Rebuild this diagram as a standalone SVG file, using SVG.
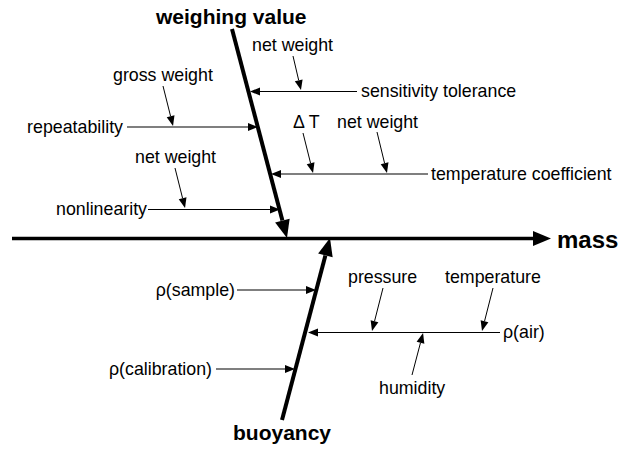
<svg xmlns="http://www.w3.org/2000/svg" width="632" height="451" viewBox="0 0 632 451">
<style>
.t{font-family:"Liberation Sans",Arial,sans-serif;font-size:17.8px;fill:#000}
.b{font-family:"Liberation Sans",Arial,sans-serif;font-weight:bold;fill:#000}
.e{text-anchor:end}
.thin{stroke:#000;stroke-width:1;fill:none;marker-end:url(#sa)}
.gray{stroke:#555;stroke-width:1.4;fill:none;marker-end:url(#sa)}
.thick{stroke:#000;stroke-width:4;fill:none;marker-end:url(#ba)}
</style>
<defs>
<marker id="sa" markerUnits="userSpaceOnUse" markerWidth="12" markerHeight="10" refX="0" refY="4" orient="auto" overflow="visible">
<path d="M0,0 L10,4 L0,8 z" fill="#000"/>
</marker>
<marker id="ba" markerUnits="userSpaceOnUse" markerWidth="20" markerHeight="16" refX="0" refY="7.5" orient="auto" overflow="visible">
<path d="M0,0 L18,7.5 L0,15 z" fill="#000"/>
</marker>
</defs>
<rect width="632" height="451" fill="#fff"/>
<g id="connectors">
<line class="thick" x1="12" y1="238.5" x2="533" y2="238.5" style="stroke-width:3.5"/>
<line class="thick" x1="232" y1="29" x2="282.4" y2="220.6"/>
<line class="thick" x1="282" y1="420" x2="325.4" y2="255.4"/>
<line class="thin" x1="357" y1="91.5" x2="260" y2="91.5"/>
<line class="gray" x1="127" y1="127" x2="248" y2="127"/>
<line class="gray" x1="428" y1="174" x2="281" y2="174"/>
<line class="thin" x1="148" y1="209.5" x2="270" y2="209.5"/>
<line class="gray" x1="237" y1="290" x2="306" y2="290"/>
<line class="thin" x1="500" y1="332.5" x2="318" y2="332.5"/>
<line class="gray" x1="216" y1="369" x2="285" y2="369"/>
<line class="thin" x1="293" y1="56" x2="298.7" y2="80.3"/>
<line class="thin" x1="163" y1="86" x2="170.6" y2="116.3"/>
<line class="thin" x1="175" y1="168" x2="182.6" y2="198.3"/>
<line class="thin" x1="303" y1="133" x2="310.6" y2="163.3"/>
<line class="thin" x1="377" y1="132" x2="384.6" y2="163.3"/>
<line class="thin" x1="383" y1="288" x2="374.5" y2="321.3"/>
<line class="thin" x1="493" y1="288" x2="484.5" y2="321.3"/>
<line class="thin" x1="412" y1="375" x2="420.5" y2="342.7"/>
</g>
<g id="weighing-value"><text class="b" x="156" y="24" font-size="21">weighing value</text></g>
<g id="mass"><text class="b" x="557" y="248" font-size="24">mass</text></g>
<g id="buoyancy"><text class="b" x="233" y="440" font-size="21">buoyancy</text></g>
<g id="net-weight-1"><text class="t" x="252" y="51">net weight</text></g>
<g id="gross-weight"><text class="t" x="113" y="81">gross weight</text></g>
<g id="sensitivity-tolerance"><text class="t" x="361" y="97">sensitivity tolerance</text></g>
<g id="repeatability"><text class="t e" x="123" y="133">repeatability</text></g>
<g id="delta-t"><text class="t" x="293" y="128">Δ T</text></g>
<g id="net-weight-2"><text class="t" x="337" y="128">net weight</text></g>
<g id="temperature-coefficient"><text class="t" x="431" y="180">temperature coefficient</text></g>
<g id="net-weight-3"><text class="t" x="135" y="163">net weight</text></g>
<g id="nonlinearity"><text class="t e" x="147" y="215">nonlinearity</text></g>
<g id="rho-sample"><text class="t e" x="235" y="296">ρ(sample)</text></g>
<g id="rho-calibration"><text class="t e" x="212" y="375">ρ(calibration)</text></g>
<g id="pressure"><text class="t" x="348" y="283">pressure</text></g>
<g id="temperature"><text class="t" x="445" y="283">temperature</text></g>
<g id="rho-air"><text class="t" x="503" y="338">ρ(air)</text></g>
<g id="humidity"><text class="t" x="379" y="394">humidity</text></g>
</svg>
